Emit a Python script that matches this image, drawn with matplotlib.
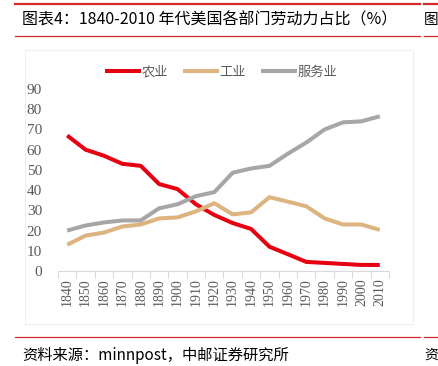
import matplotlib
matplotlib.use('Agg')
import matplotlib.pyplot as plt
from matplotlib.lines import Line2D
import numpy as np

# data
years = ['1840', '1850', '1860', '1870', '1880', '1890', '1900', '1910', '1920',
         '1930', '1940', '1950', '1960', '1970', '1980', '1990', '2000', '2010']
agri = [67, 60, 57, 53, 52, 43, 40.5, 33, 27.7, 23.7, 20.8, 12, 8.3, 4.5, 4, 3.5, 3, 3]
industry = [13, 17.5, 19, 22, 23, 26, 26.5, 29.5, 33.5, 28, 29, 36.5, 34.3, 32, 26, 23, 23, 20.3]
services = [20, 22.5, 24, 25, 25, 31, 33, 37, 39, 48.6, 50.7, 52, 58, 63.5, 70, 73.5, 74, 76.5]
series_names = ['农业', '工业', '服务业']
colors = ['#E60012', '#DDB47F', '#A6A6A6']
y_ticks = [0, 10, 20, 30, 40, 50, 60, 70, 80, 90]

title = '图表4：1840-2010 年代美国各部门劳动力占比（%）'
source = '资料来源：minnpost，中邮证券研究所'

cjk = ['Noto Sans CJK SC', 'DejaVu Sans']
serif = ['Liberation Serif', 'DejaVu Serif']
grey_txt = '#595959'

W, H = 439, 366
fig = plt.figure(figsize=(W / 100, H / 100), dpi=100)

# panel frame
fig.add_artist(plt.Rectangle((25 / W, 1 - 324 / H), (413 - 25) / W, (324 - 50) / H,
                             fill=False, edgecolor='#EEEEEE', linewidth=0.8,
                             transform=fig.transFigure))

ax = fig.add_axes([58 / W, 1 - 271 / H, (389 - 58) / W, (271 - 89) / H])
x = np.arange(len(years))
for vals, c in zip([agri, industry, services], colors):
    ax.plot(x, vals, color=c, linewidth=2.9, solid_capstyle='butt')

ax.set_xlim(-0.5, len(years) - 0.5)
ax.set_ylim(0, 90)
ax.set_yticks(y_ticks)
ax.set_yticklabels([str(v) for v in y_ticks], family=serif, fontsize=11, color=grey_txt)
ax.set_xticks(x)
ax.set_xticklabels(years, rotation=90, family=serif, fontsize=10, color=grey_txt)
ax.set_xticks(np.arange(-0.5, len(years)), minor=True)
ax.tick_params(axis='x', which='major', length=0, pad=5)
ax.tick_params(axis='x', which='minor', length=5, color='#D9D9D9', width=0.8)
ax.tick_params(axis='y', length=0, pad=11.5)
for s in ['top', 'right', 'left']:
    ax.spines[s].set_visible(False)
ax.spines['bottom'].set_color('#D9D9D9')
ax.spines['bottom'].set_linewidth(0.8)

handles = [Line2D([], [], color=c, linewidth=2.9) for c in colors]
leg = fig.legend(handles, series_names, loc='center', bbox_to_anchor=(222 / W, 1 - 72 / H),
                 ncol=3, frameon=False, handlelength=2.4, handletextpad=0.2,
                 columnspacing=1.3, prop={'family': cjk, 'size': 9.5})
for t in leg.get_texts():
    t.set_color(grey_txt)

# header / footer
fig.text(22 / W, 1 - 20 / H, title, family=cjk, fontsize=11.5, va='center', ha='left',
         weight='medium')
fig.text(22 / W, 1 - 355 / H, source, family=cjk, fontsize=11, va='center', ha='left')
# start of the neighbouring panel on the right
fig.text(438 / W, 1 - 20 / H, '图', family=cjk, fontsize=10.5, va='center', ha='right')
fig.text(438 / W, 1 - 355 / H, '资', family=cjk, fontsize=10, va='center', ha='right')

red = '#D9272E'
for y0, lw in [(4, 1.6), (36, 0.9), (337, 0.9)]:
    fig.add_artist(Line2D([15 / W, 420 / W], [1 - y0 / H] * 2, color=red, linewidth=lw,
                          transform=fig.transFigure))
    fig.add_artist(Line2D([424 / W, 1], [1 - y0 / H] * 2, color=red, linewidth=lw,
                          transform=fig.transFigure))

fig.savefig('out.png', dpi=100)
